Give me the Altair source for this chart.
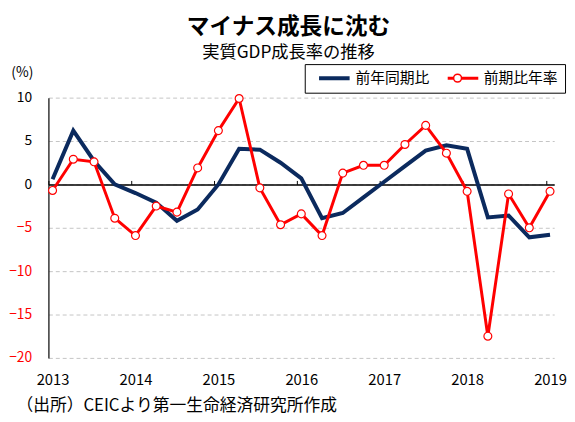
import altair as alt
import pandas as pd

FONT = "Noto Sans CJK JP"
NAVY = "#0b2a5e"
RED = "#ff0000"

quarters = ["2013Q1", "2013Q2", "2013Q3", "2013Q4",
            "2014Q1", "2014Q2", "2014Q3", "2014Q4",
            "2015Q1", "2015Q2", "2015Q3", "2015Q4",
            "2016Q1", "2016Q2", "2016Q3", "2016Q4",
            "2017Q1", "2017Q2", "2017Q3", "2017Q4",
            "2018Q1", "2018Q2", "2018Q3", "2018Q4",
            "2019Q1"]
yoy = [0.6, 6.2, 2.7, 0.0, -1.0, -2.1, -4.2, -2.9,
       0.0, 4.1, 4.0, 2.5, 0.7, -3.9, -3.3, -1.5,
       0.3, 2.1, 3.9, 4.5, 4.1, -3.8, -3.6, -6.1, -5.8]
qoq = [-0.7, 2.9, 2.6, -3.9, -5.9, -2.5, -3.2, 1.9,
       6.2, 9.9, -0.4, -4.65, -3.4, -5.9, 1.3, 2.2,
       2.2, 4.6, 6.8, 3.6, -0.8, -17.5, -1.1, -5.0, -0.8]
series_names = ["前年同期比", "前期比年率"]
year_ticks = [2013, 2014, 2015, 2016, 2017, 2018, 2019]
y_ticks = [-20, -15, -10, -5, 0, 5, 10]
title_text = "マイナス成長に沈む"
subtitle_text = "実質GDP成長率の推移"
source_text = "（出所）CEICより第一生命経済研究所作成"


def qpos(q):
    return int(q[:4]) + (int(q[5]) - 1) * 0.25


rows = []
for q, a, b in zip(quarters, yoy, qoq):
    rows.append({"t": qpos(q), "series": series_names[0], "value": a, "marker": "none"})
    rows.append({"t": qpos(q), "series": series_names[1], "value": b, "marker": series_names[1]})
df = pd.DataFrame(rows)
df_pts = df[df["series"] == series_names[1]]

xs = alt.Scale(domain=[2012.95, 2019.05], nice=False, zero=False)
ys = alt.Scale(domain=[-20, 10], nice=False, zero=False)

lines = alt.Chart(df).mark_line(strokeJoin="miter").encode(
    x=alt.X("t:Q", scale=xs, axis=alt.Axis(
        orient="bottom", values=year_ticks, format="d",
        labelFont=FONT, labelFontSize=15, labelColor="black", labelPadding=15,
        domain=False, ticks=False, grid=False,
        title=source_text, titleFont=FONT, titleFontSize=17, titleFontWeight="normal",
        titleColor="black", titleX=-33, titleY=48, titleAlign="left",
        titleBaseline="middle")),
    y=alt.Y("value:Q", scale=ys, axis=alt.Axis(
        values=y_ticks, grid=True, gridColor="#c4c4c4", gridDash=[4, 3], gridWidth=1,
        domain=True, domainColor="black", domainWidth=1.2, ticks=False,
        labelPadding=17, labelFont=FONT, labelFontSize=14,
        labelColor={"condition": {"test": "datum.value < 0", "value": RED}, "value": "black"},
        title="(%)", titleAngle=0, titleX=-27, titleY=-25, titleAlign="center",
        titleBaseline="middle", titleFont=FONT, titleFontSize=14,
        titleFontWeight="normal", titleColor="black")),
    color=alt.Color("series:N", scale=alt.Scale(domain=series_names, range=[NAVY, RED]),
                    legend=alt.Legend(
                        orient="none", legendX=260, legendY=-34, direction="horizontal",
                        title=None, symbolType="stroke", symbolSize=961,
                        symbolStrokeWidth=4, clipHeight=15, strokeColor="black",
                        padding=6.5, labelFont=FONT, labelFontSize=15, labelColor="black",
                        symbolOffset=6, labelOffset=4, columnPadding=10, zindex=0)),
    strokeWidth=alt.StrokeWidth("series:N",
                                scale=alt.Scale(domain=series_names, range=[4, 3]),
                                legend=None),
)

pts = alt.Chart(df_pts).mark_point(
    shape="circle", fill="white", strokeWidth=1.2, size=64,
    opacity=1, filled=False).encode(
    x=alt.X("t:Q", scale=xs, axis=alt.Axis(
        orient="top", offset=-88, values=year_ticks, labels=False, title=None,
        domain=True, domainColor="black", domainWidth=1.5,
        ticks=True, tickColor="black", tickSize=4, tickWidth=1, tickOffset=-4.2,
        grid=False)),
    y=alt.Y("value:Q", scale=ys),
    stroke=alt.Stroke("marker:N", scale=alt.Scale(domain=[series_names[1]], range=[RED]),
                      legend=alt.Legend(
                          orient="none", legendX=410, legendY=-24.8, title=None,
                          padding=0, symbolType="circle", symbolSize=64,
                          symbolStrokeWidth=1.5, symbolFillColor="white",
                          symbolOpacity=1,
                          labelExpr="''", labelFontSize=1, zindex=2)),
)

chart = alt.layer(lines, pts).resolve_axis(x="independent").properties(
    width=513, height=264, background="white",
    padding={"top": 5, "left": 0, "right": 0, "bottom": 0},
    title=alt.Title(text=title_text, subtitle=subtitle_text, font=FONT, fontSize=23,
                    fontWeight="bold", color="black", subtitleFont=FONT,
                    subtitleFontSize=17.5, subtitleColor="black", subtitlePadding=6,
                    offset=2, anchor="middle", dx=-13),
).configure_view(stroke=None)

chart.save("out.html", embed_options={"renderer": "svg", "actions": False})
